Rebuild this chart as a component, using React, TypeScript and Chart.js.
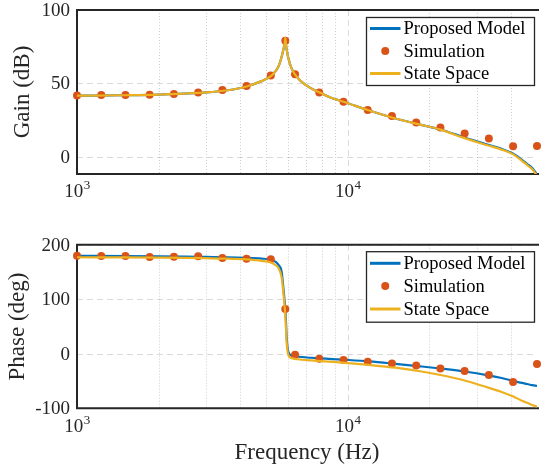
import React, { useEffect, useRef } from 'react';
import { Chart, registerables } from 'chart.js';

Chart.register(...registerables);

// ---------- data ----------
const simFreq = [1000, 1229, 1510, 1855, 2280, 2802, 3443, 4230, 5198, 5880, 6387, 7849, 9645, 11851, 14563, 17894, 21988, 27019, 33201, 40796, 50000];
const simGain = [41.9, 42.1, 42.1, 42.3, 42.8, 43.9, 45.5, 48.2, 55.5, 79.1, 56.2, 43.9, 37.5, 31.9, 27.8, 23.5, 20.0, 16.0, 12.5, 7.3, 7.5];
const simPhase = [179.8, 179.3, 179.3, 177.4, 178.0, 178.7, 175.6, 174.3, 173.2, 82, -1.8, -9.2, -11.6, -14.6, -17.7, -21.4, -26.9, -31.7, -39.0, -52.0, -18.9];

const lineFreq = [1000, 1500, 2000, 2500, 3000, 3600, 4200, 4800, 5200, 5400, 5550, 5700, 5790, 5850, 5880, 5910, 5950, 6030, 6200, 6550, 7300, 8000, 8500, 10000, 12000, 15000, 18500, 22000, 27000, 33000, 37000, 40700, 44000, 46000, 48000, 50000];
const modelGain = [41.7, 42.0, 42.4, 43.1, 43.9, 45.4, 47.8, 51.6, 55.0, 58.2, 61.6, 68.2, 73.5, 77.5, 81.0, 77.0, 73.0, 67.5, 60.3, 53.6, 46.8, 43.3, 41.0, 36.6, 31.6, 26.2, 22.0, 18.7, 13.2, 8.3, 5.5, 2.3, -2.0, -4.8, -7.5, -11.9];
const stateGain = [41.7, 42.0, 42.4, 43.1, 43.9, 45.4, 47.8, 51.6, 55.0, 58.2, 61.6, 68.2, 73.5, 77.5, 81.0, 77.0, 73.0, 67.5, 60.3, 53.6, 46.8, 43.3, 41.0, 36.6, 31.6, 26.2, 22.0, 18.6, 12.8, 7.8, 5.0, 1.9, -2.6, -5.5, -8.3, -12.8];
const modelPhase = [179.5, 179.0, 178.5, 178.0, 177.5, 177.0, 176.0, 174.5, 172.5, 169, 163, 150, 118, 95, 82, 62, 30, 4, -3.5, -5.5, -7.3, -8.6, -9.3, -11.3, -14.0, -18.5, -23.0, -27.0, -32.5, -39.5, -44.5, -49.5, -53.5, -55.5, -57.5, -59.0];
const statePhase = [177.0, 176.6, 176.2, 175.8, 175.2, 174.4, 173.0, 170.5, 167.5, 163, 157, 140, 110, 85, 70, 48, 20, -2, -8, -10, -12, -13.5, -14.5, -17.0, -20.5, -25.5, -32.0, -39.0, -49.0, -62.0, -70.0, -78.0, -86.0, -90.0, -94.0, -97.0];

const gainTicks = [0, 50, 100];
const phaseTicks = [-100, 0, 100, 200];
const decadeTicks = [1000, 10000];
const decadeExps = ['3', '4'];
const minorTicks = [2000, 3000, 4000, 5000, 6000, 7000, 8000, 9000, 20000, 30000, 40000];
const legendLabels = ['Proposed Model', 'Simulation', 'State Space'];

// ---------- style ----------
const FONT = '"Liberation Serif", "Times New Roman", serif';
const BLUE = '#0072BD';
const ORANGE = '#D95319';
const YELLOW = '#EDB120';
const AXIS = '#262626';

type PanelCfg = {
  height: number;
  top: number;
  padTop: number;
  padBottom: number;
  yMin: number;
  yMax: number;
  yTicks: number[];
  model: number[];
  sim: number[];
  state: number[];
  yTitle: string;
  yTitleX: number;
  legend: { x: number; y: number; w: number; h: number; rows: number[] };
  xTitle: boolean;
};

function makePlugin(cfg: PanelCfg) {
  return {
    id: 'bodeDecor',
    beforeDatasetsDraw(chart: any) {
      const { ctx, chartArea: a, scales } = chart;
      const xs = scales.x;
      const ys = scales.y;
      ctx.save();
      // minor x grid (dotted)
      ctx.strokeStyle = 'rgba(38,38,38,0.22)';
      ctx.lineWidth = 1;
      ctx.setLineDash([1, 2]);
      for (const v of minorTicks) {
        const x = Math.round(xs.getPixelForValue(v)) + 0.5;
        ctx.beginPath();
        ctx.moveTo(x, a.top);
        ctx.lineTo(x, a.bottom);
        ctx.stroke();
      }
      // major grid (dashed)
      ctx.strokeStyle = 'rgba(38,38,38,0.17)';
      ctx.setLineDash([6, 4]);
      for (const v of decadeTicks) {
        const x = Math.round(xs.getPixelForValue(v)) + 0.5;
        ctx.beginPath();
        ctx.moveTo(x, a.top);
        ctx.lineTo(x, a.bottom);
        ctx.stroke();
      }
      for (const v of cfg.yTicks) {
        const y = Math.round(ys.getPixelForValue(v)) + 0.5;
        ctx.beginPath();
        ctx.moveTo(a.left, y);
        ctx.lineTo(a.right, y);
        ctx.stroke();
      }
      ctx.setLineDash([]);
      // axes box (left, top, bottom)
      ctx.strokeStyle = AXIS;
      ctx.lineWidth = 2;
      ctx.beginPath();
      ctx.moveTo(a.right + 2, a.top);
      ctx.lineTo(a.left, a.top);
      ctx.lineTo(a.left, a.bottom);
      ctx.lineTo(a.right + 2, a.bottom);
      ctx.stroke();

      // y tick labels
      ctx.fillStyle = AXIS;
      ctx.font = `19px ${FONT}`;
      ctx.textAlign = 'right';
      ctx.textBaseline = 'middle';
      for (const v of cfg.yTicks) {
        ctx.fillText(String(v), a.left - 7, ys.getPixelForValue(v) + 1);
      }
      // x tick labels 10^n
      ctx.textBaseline = 'alphabetic';
      ctx.textAlign = 'left';
      decadeTicks.forEach((v, i) => {
        const x = xs.getPixelForValue(v);
        ctx.font = `19px ${FONT}`;
        const w1 = ctx.measureText('10').width;
        ctx.font = `13px ${FONT}`;
        const w2 = ctx.measureText(decadeExps[i]).width;
        const left = x - (w1 + w2) / 2;
        const base = a.bottom + 23.3;
        ctx.font = `19px ${FONT}`;
        ctx.fillText('10', left, base);
        ctx.font = `13px ${FONT}`;
        ctx.fillText(decadeExps[i], left + w1 + 0.5, base - 8);
      });
      // y title
      ctx.font = `23px ${FONT}`;
      ctx.textAlign = 'center';
      ctx.save();
      ctx.translate(cfg.yTitleX, (a.top + a.bottom) / 2);
      ctx.rotate(-Math.PI / 2);
      ctx.fillText(cfg.yTitle, 0, 0);
      ctx.restore();
      if (cfg.xTitle) {
        ctx.fillText('Frequency (Hz)', (a.left + a.right) / 2, a.bottom + 51);
      }
      ctx.restore();
    },
    afterDatasetsDraw(chart: any) {
      const { ctx } = chart;
      const L = cfg.legend;
      ctx.save();
      ctx.fillStyle = '#ffffff';
      ctx.fillRect(L.x, L.y, L.w, L.h);
      ctx.strokeStyle = AXIS;
      ctx.lineWidth = 1.3;
      ctx.strokeRect(L.x, L.y, L.w, L.h);
      const sx0 = L.x + 3.5;
      const sx1 = L.x + 34;
      const tx = L.x + 37;
      ctx.font = `18.5px ${FONT}`;
      ctx.textAlign = 'left';
      ctx.textBaseline = 'middle';
      const colors = [BLUE, ORANGE, YELLOW];
      legendLabels.forEach((lab, i) => {
        const y = L.rows[i];
        if (i === 1) {
          ctx.fillStyle = ORANGE;
          ctx.beginPath();
          ctx.arc((sx0 + sx1) / 2, y, 4, 0, Math.PI * 2);
          ctx.fill();
        } else {
          ctx.strokeStyle = colors[i];
          ctx.lineWidth = 3;
          ctx.beginPath();
          ctx.moveTo(sx0, y);
          ctx.lineTo(sx1, y);
          ctx.stroke();
        }
        ctx.fillStyle = '#000000';
        ctx.fillText(lab, tx, y + 1);
      });
      ctx.restore();
    },
  };
}

function Panel({ cfg }: { cfg: PanelCfg }) {
  const ref = useRef<HTMLCanvasElement>(null);
  useEffect(() => {
    const canvas = ref.current;
    if (!canvas) return;
    const pts = (ys: number[], xs: number[]) => xs.map((f, i) => ({ x: f, y: ys[i] }));
    const chart = new Chart(canvas, {
      type: 'line',
      data: {
        datasets: [
          {
            label: legendLabels[0],
            data: pts(cfg.model, lineFreq),
            borderColor: BLUE,
            borderWidth: 2.2,
            pointRadius: 0,
            cubicInterpolationMode: 'monotone',
            order: 3,
          },
          {
            label: legendLabels[1],
            data: pts(cfg.sim, simFreq),
            showLine: false,
            pointRadius: 4,
            pointBackgroundColor: ORANGE,
            pointBorderWidth: 0,
            borderColor: ORANGE,
            clip: false,
            order: 2,
          },
          {
            label: legendLabels[2],
            data: pts(cfg.state, lineFreq),
            borderColor: YELLOW,
            borderWidth: 2.2,
            pointRadius: 0,
            cubicInterpolationMode: 'monotone',
            order: 1,
          },
        ] as any,
      },
      options: {
        animation: false,
        responsive: false,
        devicePixelRatio: 1,
        events: [],
        layout: { padding: { left: 77, right: 0, top: cfg.padTop, bottom: cfg.padBottom } },
        plugins: { legend: { display: false }, tooltip: { enabled: false } },
        scales: {
          x: { type: 'logarithmic', min: 1000, max: 50000, display: false },
          y: { type: 'linear', min: cfg.yMin, max: cfg.yMax, display: false },
        },
      },
      plugins: [makePlugin(cfg)],
    } as any);
    return () => chart.destroy();
  }, [cfg]);
  return (
    <canvas
      ref={ref}
      width={541}
      height={cfg.height}
      style={{ position: 'absolute', left: 0, top: cfg.top, width: 541, height: cfg.height }}
    />
  );
}

const gainCfg: PanelCfg = {
  height: 230,
  top: 0,
  padTop: 10,
  padBottom: 56,
  yMin: -11.6,
  yMax: 100,
  yTicks: gainTicks,
  model: modelGain,
  sim: simGain,
  state: stateGain,
  yTitle: 'Gain (dB)',
  yTitleX: 29,
  legend: { x: 366.5, y: 17.5, w: 168, h: 68, rows: [28.5, 51, 73.5] },
  xTitle: false,
};

const phaseCfg: PanelCfg = {
  height: 239,
  top: 230,
  padTop: 14.7,
  padBottom: 60.7,
  yMin: -100,
  yMax: 200,
  yTicks: phaseTicks,
  model: modelPhase,
  sim: simPhase,
  state: statePhase,
  yTitle: 'Phase (deg)',
  yTitleX: 24,
  legend: { x: 366.5, y: 21.7, w: 168, h: 70.5, rows: [33.3, 56, 79] },
  xTitle: true,
};

export default function App() {
  return (
    <div style={{ position: 'absolute', left: 0, top: 0, width: 541, height: 469, overflow: 'hidden', background: '#ffffff' }}>
      <Panel cfg={gainCfg} />
      <Panel cfg={phaseCfg} />
    </div>
  );
}
